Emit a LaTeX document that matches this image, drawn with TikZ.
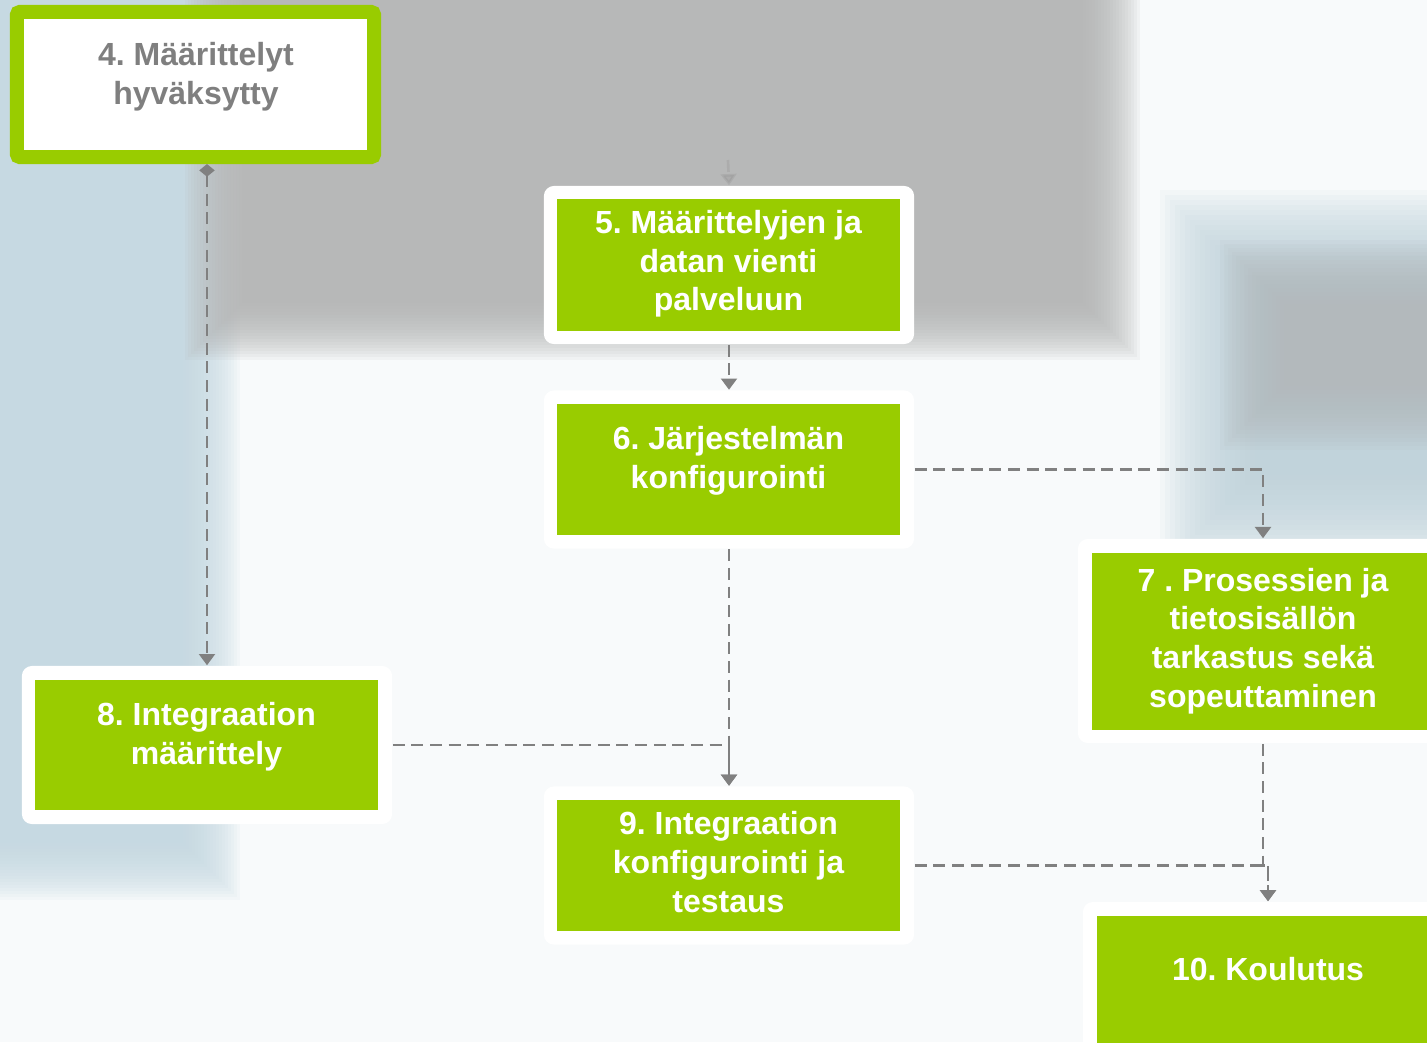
\documentclass[tikz,border=0pt]{standalone}
\usepackage{fontspec}
\setmainfont{Liberation Sans}
\usetikzlibrary{arrows.meta}
\definecolor{stepgreen}{HTML}{99CC00}
\definecolor{linkgrey}{HTML}{808080}
\definecolor{labelgrey}{HTML}{7F7F7F}
\definecolor{paper}{HTML}{F8FAFB}
\definecolor{skyblue}{HTML}{C4D9E2}
\definecolor{wallgrey}{HTML}{B3B4B4}
\definecolor{hazeblue}{HTML}{BFD3DB}
\definecolor{hazegrey}{HTML}{B3B9BC}
% blurred patch of the photo: colour, x1, y1, x2, y2, step
\newcommand{\softpatch}[6]{%
  \foreach \k in {0,...,19}
    \fill[#1, opacity=0.1] ({#2+#6*\k},{#3+#6*\k}) rectangle ({#4-#6*\k},{#5-#6*\k});
}
\tikzset{
  whiteframe/.style={fill=white, rounded corners=0.1cm, minimum width=3.7cm, minimum height=1.58cm, inner sep=0},
  stepbox/.style={fill=stepgreen, minimum width=3.43cm, minimum height=1.31cm, inner sep=0},
  steptext/.style={text=white, font=\bfseries\fontsize{9.1}{11}\selectfont, align=center, inner sep=0},
  flow/.style={draw=linkgrey, line width=0.75pt, dash pattern=on 3.4pt off 1.9pt, -{Triangle[width=4.5pt,length=3.2pt]}},
}
\frenchspacing
\begin{document}
\begin{tikzpicture}[x=0.01cm, y=-0.01cm]
  \useasboundingbox (0,0) rectangle (1427,1042);
  % background photo
  \fill[paper] (0,0) rectangle (1427,1042);
  \softpatch{skyblue}{-100}{-100}{240}{900}{3}
  \softpatch{wallgrey}{185}{-100}{1140}{360}{3}
  \softpatch{hazeblue}{1160}{190}{1540}{570}{5}
  \softpatch{hazegrey}{1220}{240}{1500}{450}{4}

  % step 4
  \node[draw=stepgreen, line width=0.14cm, fill=white, rounded corners=0.03cm,
        minimum width=3.57cm, minimum height=1.45cm, outer sep=0.07cm] (b4) at (195.5,84.5) {};
  \node[steptext, text=labelgrey] (t4) at (196,77) {4. Määrittelyt\\hyväksytty};

  % white frames and green boxes
  \node[whiteframe] (w5) at (729,265) {};
  \node[stepbox] (b5) at (728.5,265) {};
  \node[steptext] (t5) at (728.5,264) {5. Määrittelyjen ja\\datan vienti\\palveluun};

  \node[whiteframe] (w6) at (729,469.5) {};
  \node[stepbox] (b6) at (728.5,469.5) {};
  \node[steptext] (t6) at (728.5,461) {6. Järjestelmän\\konfigurointi};

  \node[whiteframe, minimum height=2.04cm] (w7) at (1263,641) {};
  \node[stepbox, minimum height=1.77cm] (b7) at (1263.5,641.5) {};
  \node[steptext] (t7) at (1263,641) {7 . Prosessien ja\\tietosisällön\\tarkastus sekä\\sopeuttaminen};

  \node[whiteframe] (w8) at (207,745) {};
  \node[stepbox, minimum height=1.30cm] (b8) at (206.5,745) {};
  \node[steptext] (t8) at (206.5,737) {8. Integraation\\määrittely};

  \node[whiteframe] (w9) at (729,865.5) {};
  \node[stepbox] (b9) at (728.5,865.5) {};
  \node[steptext] (t9) at (728.5,862) {9. Integraation\\konfigurointi ja\\testaus};

  \node[whiteframe, minimum height=1.59cm] (w10) at (1268,981.5) {};
  \node[stepbox] (b10) at (1268.5,981.5) {};
  \node[steptext] (t10) at (1268,969) {10. Koulutus};

  % connectors
  \coordinate (in5) at (728,160);
  \draw[flow, opacity=0.2] (in5) -- (w5.north);
  \draw[flow, {Diamond[width=4.4pt,length=3.6pt]}-{Triangle[width=4.5pt,length=3.2pt]}] (b4.south -| w8.north) -- (w8.north);
  \draw[flow] (w5.south) -- (w6.north);
  \draw[flow] (w6.east) -| (w7.north);
  \draw[flow] (w6.south) -- (w9.north);
  \draw[flow] (w8.east) -| (w9.north);
  \draw[flow] (w7.south) -- ++(0,122) -| (w10.north);
  \draw[flow] (w9.east) -| (w10.north);
\end{tikzpicture}
\end{document}
